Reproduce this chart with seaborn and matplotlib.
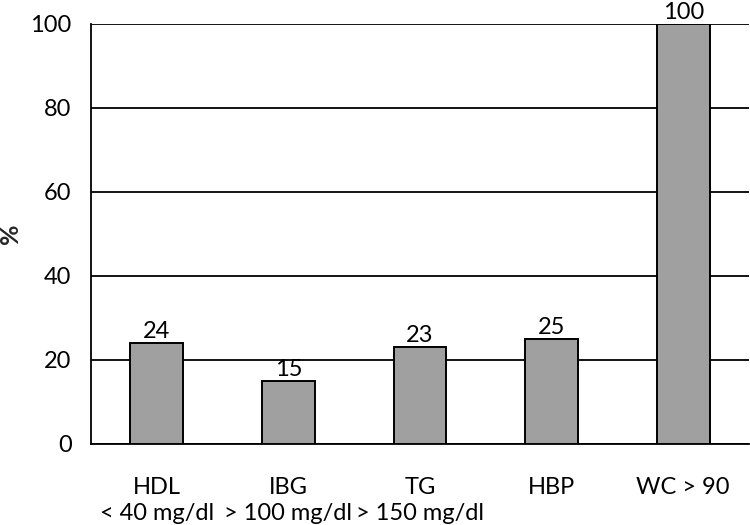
import matplotlib
matplotlib.use("Agg")
import matplotlib.pyplot as plt
import seaborn as sns
import numpy as np
import pandas as pd

categories = ["HDL\n< 40 mg/dl", "IBG\n> 100 mg/dl", "TG\n> 150 mg/dl", "HBP", "WC > 90"]
values = [24, 15, 23, 25, 100]
yticks = [0, 20, 40, 60, 80, 100]

sns.set_style("white")
plt.rcParams['font.family'] = ['Lato', 'DejaVu Sans']
plt.rcParams['text.color'] = 'black'
plt.rcParams['xtick.color'] = 'black'
plt.rcParams['ytick.color'] = 'black'

fig = plt.figure(figsize=(7.5, 5.25), dpi=100)
ax = fig.add_axes([91/750, 1-444/525, (749-91)/750, (444-24)/525])

df = pd.DataFrame({"cat": categories, "val": values})
sns.barplot(data=df, x="cat", y="val", color="#a0a0a0", saturation=1,
            width=0.4, edgecolor="black", linewidth=1.4, ax=ax, zorder=3)

fs = 17
ax.set_ylim(0, 100)
ax.set_xlim(-0.5, 4.5)
ax.set_yticks(yticks)
ax.set_yticklabels([str(t) for t in yticks], fontsize=fs)
ax.yaxis.grid(True, color="black", linewidth=1.3, zorder=0)
ax.set_axisbelow(True)

ax.set_xticks(np.arange(len(categories)))
ax.set_xticklabels(categories, fontsize=fs, linespacing=1.3)
ax.tick_params(axis="x", which="major", length=0, pad=24)
ax.set_xticks(np.arange(-0.5, len(categories), 1), minor=True)
ax.tick_params(axis="x", which="minor", length=10, width=1.3, color="black", direction="out")
ax.tick_params(axis="y", which="major", length=10, width=1.3, color="black", direction="out", pad=4)

for s in ["top", "right"]:
    ax.spines[s].set_visible(False)
for s in ["left", "bottom"]:
    ax.spines[s].set_color("black")
    ax.spines[s].set_linewidth(1.3)

ax.set_xlabel("")
ax.set_ylabel("%", fontsize=18, fontweight="bold", labelpad=6)

for i, v in enumerate(values):
    ax.text(i, v + 0.3, str(v), ha="center", va="bottom", fontsize=fs, clip_on=False)

fig.savefig("out.png", dpi=100)
